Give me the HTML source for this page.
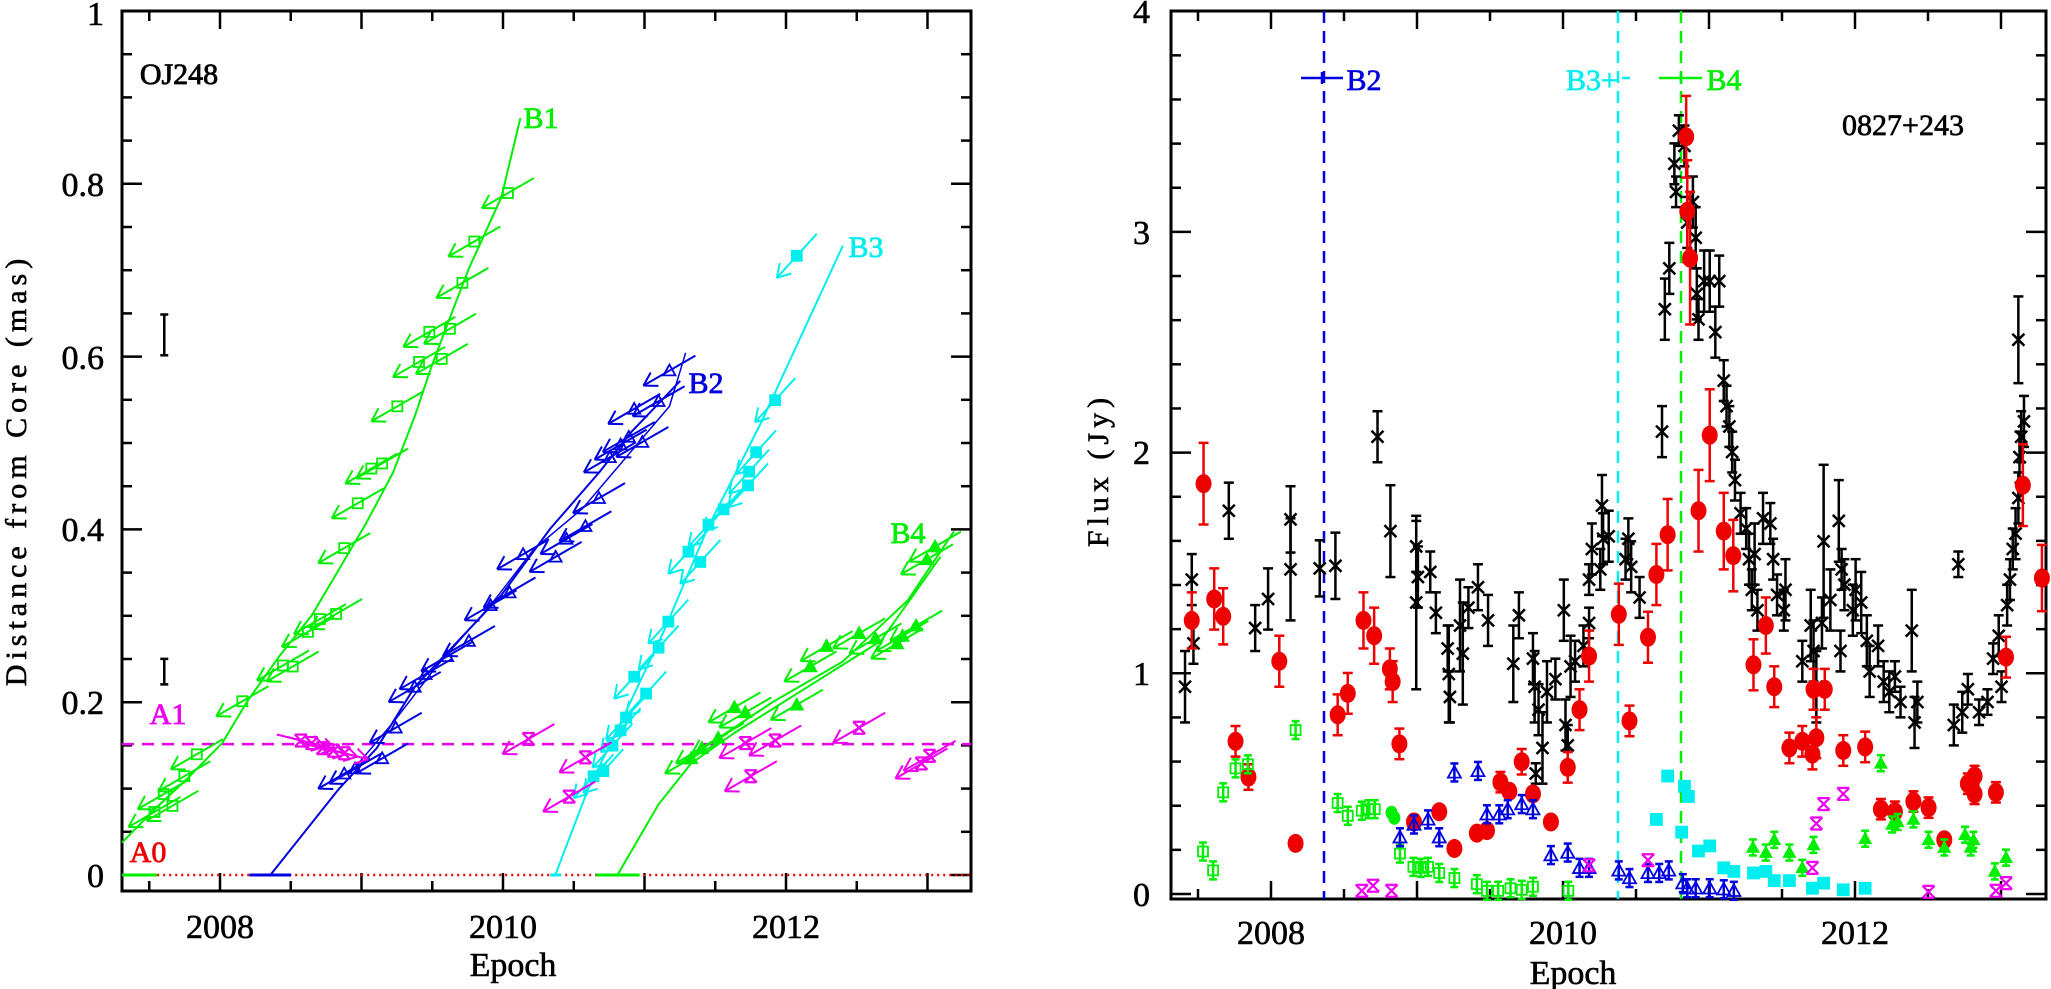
<!DOCTYPE html>
<html><head><meta charset="utf-8"><style>
html,body{margin:0;padding:0;background:#fff;}
svg{display:block;}
text{font-family:"Liberation Serif",serif;}
</style></head><body>
<svg id="s" width="2051" height="989" viewBox="0 0 2051 989" xmlns="http://www.w3.org/2000/svg">
<rect x="0" y="0" width="2051" height="989" fill="#fff"/>
<g id="L"></g><g id="R"></g>
<!-- left texts -->
<g stroke-width="0.8">
<text x="179" y="84" font-size="30" fill="#000" stroke="#000" text-anchor="middle">OJ248</text>
<text x="541" y="128" font-size="30" fill="#00ee00" stroke="#00ee00" text-anchor="middle">B1</text>
<text x="706" y="393" font-size="30" fill="#0000e0" stroke="#0000e0" text-anchor="middle">B2</text>
<text x="866" y="257" font-size="30" fill="#00eeee" stroke="#00eeee" text-anchor="middle">B3</text>
<text x="908" y="543" font-size="30" fill="#00ee00" stroke="#00ee00" text-anchor="middle">B4</text>
<text x="168" y="724" font-size="30" fill="#ee00ee" stroke="#ee00ee" text-anchor="middle">A1</text>
<text x="148" y="862" font-size="30" fill="#ee0000" stroke="#ee0000" text-anchor="middle">A0</text>
</g>
<g font-size="34" text-anchor="end" fill="#000" stroke="#000" stroke-width="0.6">
<text x="104" y="887">0</text><text x="104" y="714">0.2</text><text x="104" y="541">0.4</text>
<text x="104" y="369">0.6</text><text x="104" y="196">0.8</text><text x="104" y="25">1</text>
</g>
<g font-size="34" text-anchor="middle" fill="#000" stroke="#000" stroke-width="0.6">
<text x="220" y="938">2008</text><text x="503" y="938">2010</text><text x="786" y="938">2012</text>
<text x="513" y="976">Epoch</text>
<text transform="translate(26,470) rotate(-90)" font-size="30" letter-spacing="5">Distance from Core (mas)</text>
</g>
<!-- right texts -->
<g font-size="34" text-anchor="end" fill="#000" stroke="#000" stroke-width="0.6">
<text x="1150" y="906">0</text><text x="1150" y="685">1</text><text x="1150" y="464">2</text>
<text x="1150" y="244">3</text><text x="1150" y="23">4</text>
</g>
<g font-size="34" text-anchor="middle" fill="#000" stroke="#000" stroke-width="0.6">
<text x="1271" y="944">2008</text><text x="1563" y="944">2010</text><text x="1855" y="944">2012</text>
<text x="1573" y="984">Epoch</text>
<text transform="translate(1108,470) rotate(-90)" font-size="30" letter-spacing="5">Flux (Jy)</text>
</g>
<g stroke-width="0.7">
<text x="1903" y="135" font-size="30" fill="#000" stroke="#000" text-anchor="middle">0827+243</text>
<text x="1364" y="90" font-size="30" fill="#0000e0" stroke="#0000e0" text-anchor="middle">B2</text>
<text x="1592" y="90" font-size="30" fill="#00eeee" stroke="#00eeee" text-anchor="middle">B3+</text>
<text x="1724" y="90" font-size="30" fill="#00ee00" stroke="#00ee00" text-anchor="middle">B4</text>
</g>
</svg>
<script>
var NS="http://www.w3.org/2000/svg";
function el(p,t,a){var e=document.createElementNS(NS,t);for(var k in a)e.setAttribute(k,a[k]);p.appendChild(e);return e;}
var L=document.getElementById('L'),R=document.getElementById('R');
function line(p,x1,y1,x2,y2,c,w,d){var a={x1:x1,y1:y1,x2:x2,y2:y2,stroke:c,'stroke-width':w||2};if(d)a['stroke-dasharray']=d;return el(p,'line',a);}
function poly(p,pts,c,w,d){var a={points:pts.map(function(q){return q[0]+','+q[1];}).join(' '),fill:'none',stroke:c,'stroke-width':w||2};if(d)a['stroke-dasharray']=d;el(p,'polyline',a);}
function frame(p,x0,y0,x1,y1){el(p,'rect',{x:x0,y:y0,width:x1-x0,height:y1-y0,fill:'none',stroke:'#000','stroke-width':3});}
frame(L,122,11,971,891);frame(R,1171,11,2046,899);
for(var i=0;i<=20;i++){var v=i*0.05,y=875-864*v;if(y<11)continue;var len=(i%4==0)?20:10;line(L,122,y,122+len,y,'#000',2.5);line(L,971,y,971-len,y,'#000',2.5);}
for(var t=2007.5;t<=2013.01;t+=0.5){var x=220+(t-2008)*141.5;var len=(Math.abs(t-Math.round(t))<0.01)?18:10;line(L,x,891,x,891-len,'#000',2.5);line(L,x,11,x,11+len,'#000',2.5);}
for(var i=0;i<=20;i++){var f=i*0.2,y=894-220.7*f;var len=(i%5==0)?20:10;line(R,1171,y,1171+len,y,'#000',2.5);line(R,2046,y,2046-len,y,'#000',2.5);}
for(var t=2007.5;t<=2013.01;t+=0.5){var x=1271+(t-2008)*146;var len=(Math.abs(t-Math.round(t))<0.01)?18:10;line(R,x,899,x,899-len,'#000',2.5);line(R,x,11,x,11+len,'#000',2.5);}
function LX(z){return 122+z/1.845;}function LY(z){return 90+z/1.96;}
function lp(a){return a.map(function(q){return [LX(q[0]),LY(q[1])];});}
var G='#00ee00',B='#0000e0',C='#00eeee',M='#ee00ee',Rd='#ee0000';
line(L,LX(65),875,971,875,Rd,2.5,'2,4');
line(L,122,875,LX(65),875,G,3);line(L,LX(235),875,LX(312),875,B,3);line(L,LX(790),875,LX(810),875,C,3);line(L,LX(875),875,LX(955),875,G,3);
line(L,122,LY(1282),971,LY(1282),M,2.5,'12,8');
poly(L,lp([[0,1475],[60,1410],[120,1350],[185,1280],[230,1200],[290,1110],[350,1030],[400,940],[450,850],[500,750],[540,640],[570,545],[600,460],[640,350],[700,210],[735,55]]),G);
poly(L,lp([[275,1537],[400,1370],[470,1290],[540,1170],[620,1080],[700,990],[790,860],[880,750],[940,670],[1030,570]]),B);
poly(L,lp([[420,1340],[500,1240],[580,1130],[680,1010],[760,900],[850,820],[930,720],[1010,620],[1040,515]]),B,1.5);
poly(L,lp([[800,1537],[860,1370],[920,1240],[1000,1060],[1080,860],[1180,650],[1330,305]]),C);
poly(L,lp([[915,1537],[990,1400],[1050,1320],[1130,1260],[1250,1180],[1400,1080],[1510,915]]),G);
poly(L,lp([[1030,1320],[1200,1200],[1330,1120],[1450,1000],[1535,865]]),G);
function arrow(p,x,y,c,dx,dy){dx=dx||26;dy=dy||-15;line(p,x+dx,y+dy,x-dx,y-dy,c,2);var ex=x-dx,ey=y-dy;var ang=Math.atan2(-dy,-dx);var a1=ang+2.6,a2=ang-2.6;line(p,ex,ey,ex+15*Math.cos(a1),ey+15*Math.sin(a1),c,2);line(p,ex,ey,ex+15*Math.cos(a2),ey+15*Math.sin(a2),c,2);}
function msq(p,x,y,c,f,s){s=s||5;el(p,'rect',{x:x-s,y:y-s,width:2*s,height:2*s,fill:f?c:'none',stroke:c,'stroke-width':1.8});}
function mtri(p,x,y,c,f,s){s=s||6;el(p,'polygon',{points:(x)+','+(y-s)+' '+(x-s)+','+(y+s*0.8)+' '+(x+s)+','+(y+s*0.8),fill:f?c:'none',stroke:c,'stroke-width':1.8});}
function mstar(p,x,y,c,s){s=s||5;line(p,x-s,y-s,x+s,y+s,c,2.2);line(p,x-s,y+s,x+s,y-s,c,2.2);line(p,x-s,y-s,x+s,y-s,c,2.2);line(p,x-s,y+s,x+s,y+s,c,2.2);}
[[60,1415],[93,1403],[77,1380],[115,1345],[138,1302],[222,1198],[297,1128],[315,1130],[343,1062],[365,1037],[395,1027],[410,898],[435,810],[460,742],[480,732],[508,620],[548,533],[590,527],[567,474],[605,468],[628,378],[650,297],[712,202]].forEach(function(q){var x=LX(q[0]),y=LY(q[1]);arrow(L,x,y,G);msq(L,x,y,G,false);});
[[410,1340],[430,1330],[480,1310],[505,1250],[540,1170],[560,1145],[600,1110],[640,1080],[680,1010],[715,985],[740,910],[800,915],[820,880],[855,855],[880,800],[900,720],[920,695],[935,680],[960,690],[945,625],[990,610],[1010,550]].forEach(function(q){var x=LX(q[0]),y=LY(q[1]);arrow(L,x,y,B);mtri(L,x,y,B,false);});
[[870,1345],[888,1335],[905,1285],[920,1255],[930,1230],[945,1150],[967,1183],[990,1093],[1008,1042],[1045,905],[1067,925],[1082,852],[1110,822],[1155,775],[1157,748],[1170,710],[1205,608],[1245,325]].forEach(function(q){var x=LX(q[0]),y=LY(q[1]);arrow(L,x,y,C,20,-22);msq(L,x,y,C,true);});
[[1050,1310],[1070,1290],[1100,1270],[1130,1210],[1150,1220],[1245,1205],[1270,1130],[1300,1090],[1360,1065],[1390,1075],[1430,1085],[1440,1070],[1465,1050],[1485,920],[1500,895]].forEach(function(q){var x=LX(q[0]),y=LY(q[1]);arrow(L,x,y,G);mtri(L,x,y,G,true);});
[[330,1275,1],[350,1280,1],[370,1290,1],[390,1295,1],[410,1300,1],[750,1272,0],[855,1308,0],[825,1385,0],[1150,1280,0],[1205,1275,0],[1160,1345,0],[1360,1250,0],[1490,1305,0],[1475,1320,0]].forEach(function(q){var x=LX(q[0]),y=LY(q[1]);if(q[2])arrow(L,x,y,M,-24,-6);else arrow(L,x,y,M);mstar(L,x,y,M,6);});
function ebar(p,x,y1,y2,c,w){line(p,x,y1,x,y2,c,2.5);line(p,x-w,y1,x+w,y1,c,2.5);line(p,x-w,y2,x+w,y2,c,2.5);}
ebar(L,LX(78),LY(440),LY(520),'#000',4);ebar(L,LX(78),LY(1115),LY(1165),'#000',4);
function RX(z){return 1171+z/1.782;}function RY(z){return 100+z/1.96;}
line(R,1324,11,1324,899,B,2.5,'12,8');line(R,1618,11,1618,899,C,2.5,'12,8');line(R,1681,11,1681,899,G,2.5,'12,8');
line(R,1301,78,1343,78,B,2.5);line(R,1322,72,1322,84,B,2.5);
line(R,1622,78,1630,78,C,2.5);
line(R,1659,78,1702,78,G,2.5);line(R,1681,72,1681,84,G,2.5);
var blk=[[25,1150,70],[37,940,50],[40,1065,40],[103,805,55],[150,1035,45],[173,978,60],[213,822,65],[213,920,100],[265,918,55],[293,913,65],[368,660,50],[391,845,90],[437,875,50],[437,985,170],[440,935,60],[462,925,40],[472,1005,40],[493,1075,45],[495,1125,95],[497,1170,50],[515,1030,90],[520,1085,100],[530,995,40],[547,955,45],[565,1020,50],[610,1105,75],[620,1010,45],[645,1095,50],[648,1150,70],[650,1320,20],[655,1195,50],[662,1270,70],[670,1160,60],[685,1135,40],[700,1000,60],[703,1225,50],[707,1265,40],[712,1110,60],[720,1100,40],[735,1070,40],[745,1025,30],[745,940,30],[750,880,50],[765,920,40],[768,795,60],[770,860,50],[780,855,50],[810,900,40],[815,860,40],[820,915,50],[835,975,40],[875,650,50],[880,410,60],[888,330,50],[897,125,40],[900,180,30],[905,60,30],[915,90,40],[920,240,50],[930,200,50],[935,270,60],[937,380,50],[940,430,40],[950,355,60],[960,355,60],[970,455,50],[977,355,50],[985,550,40],[990,600,40],[995,640,40],[1000,690,40],[1005,745,40],[1015,810,40],[1025,840,40],[1030,900,50],[1035,960,40],[1040,890,60],[1045,1000,40],[1055,820,50],[1068,830,40],[1073,900,40],[1080,970,40],[1092,1000,40],[1095,960,60],[1125,1100,40],[1140,1030,70],[1145,1080,60],[1150,1150,70],[1160,1025,50],[1163,865,150],[1175,980,60],[1190,825,80],[1193,1080,40],[1195,920,40],[1200,950,50],[1215,1000,50],[1220,960,60],[1230,985,60],[1240,1060,50],[1245,1120,50],[1260,1070,40],[1270,1140,40],[1280,1160,40],[1290,1130,30],[1300,1180,30],[1320,1040,80],[1325,1220,50],[1330,1180,40],[1395,1225,40],[1403,910,25],[1410,1200,40],[1420,1155,30],[1440,1200,25],[1455,1180,25],[1465,1095,30],[1475,1050,40],[1480,1150,30],[1490,990,40],[1495,940,40],[1500,880,40],[1505,850,50],[1510,780,50],[1512,700,50],[1515,660,50],[1520,630,50],[1510,470,85]];
blk.forEach(function(q){var x=RX(q[0]),y=RY(q[1]),e=q[2]/1.96;ebar(R,x,y-e,y+e,'#000',5);line(R,x-6,y-6,x+6,y+6,'#000',2.5);line(R,x-6,y+6,x+6,y-6,'#000',2.5);});
var red=[[37,1020,55],[58,752,80],[77,978,60],[93,1012,55],[115,1257,30],[138,1327,25],[193,1100,50],[222,1457,0],[297,1205,40],[315,1163,40],[343,1020,55],[362,1050,55],[390,1115,40],[395,1140,40],[407,1262,30],[433,1415,0],[478,1395,0],[505,1467,0],[545,1437,0],[563,1432,0],[587,1337,20],[603,1355,0],[625,1297,25],[645,1360,0],[677,1415,0],[707,1308,30],[728,1195,40],[745,1090,50],[798,1008,60],[817,1217,30],[850,1053,50],[865,930,60],[885,852,70],[918,72,80],[920,218,100],[925,310,130],[940,805,80],[960,657,90],[985,845,75],[1002,893,70],[1038,1107,50],[1060,1030,55],[1075,1150,40],[1102,1270,30],[1125,1257,30],[1143,1282,30],[1145,1155,40],[1150,1250,40],[1165,1155,40],[1198,1275,30],[1237,1268,30],[1265,1390,20],[1290,1395,20],[1323,1375,20],[1350,1387,20],[1378,1450,0],[1420,1340,20],[1432,1325,20],[1432,1360,20],[1470,1357,20],[1488,1092,40],[1518,755,80],[1552,937,65]];
red.forEach(function(q){var x=RX(q[0]),y=RY(q[1]),e=q[2]/1.96;if(e>0)ebar(R,x,y-e,y+e,Rd,5);el(R,'ellipse',{cx:x,cy:y,rx:8,ry:9.5,fill:Rd});});
[[57,1473],[75,1510],[93,1357],[115,1310],[137,1302],[222,1235],[297,1378],[315,1403],[340,1393],[352,1390],[363,1390],[408,1477],[432,1503],[445,1505],[458,1503],[478,1515],[505,1525],[545,1537],[563,1550],[583,1550],[605,1545],[625,1548],[645,1542],[708,1550]].forEach(function(q){var x=RX(q[0]),y=RY(q[1]);ebar(R,x,y-9,y+9,G,4);msq(R,x,y,G,false,5);});
[[393,1397],[398,1407]].forEach(function(q){el(R,'ellipse',{cx:RX(q[0]),cy:RY(q[1]),rx:6,ry:7,fill:G});});
[[408,1445],[433,1420],[458,1410],[478,1445],[505,1318],[547,1315],[563,1400],[585,1400],[600,1390],[625,1380],[645,1390],[677,1480],[707,1475],[728,1505],[745,1505],[798,1510],[817,1525],[850,1515],[870,1515],[887,1510],[912,1535],[920,1545],[935,1545],[960,1545],[985,1547],[1003,1550]].forEach(function(q){var x=RX(q[0]),y=RY(q[1]);ebar(R,x,y-9,y+9,B,4);mtri(R,x,y,B,false,6.5);});
[[865,1410],[885,1325],[910,1435],[915,1345],[922,1365],[940,1472],[960,1462],[985,1505],[1003,1512],[1038,1515],[1060,1512],[1075,1530],[1102,1530],[1143,1545],[1163,1535],[1198,1548],[1237,1545]].forEach(function(q){msq(R,RX(q[0]),RY(q[1]),C,true,5.5);});
[[1037,1465],[1060,1475],[1075,1450],[1102,1475],[1125,1505],[1145,1460],[1237,1448],[1265,1300],[1285,1420],[1295,1415],[1323,1410],[1350,1450],[1378,1465],[1415,1440],[1425,1465],[1430,1450],[1468,1512],[1488,1485]].forEach(function(q){var x=RX(q[0]),y=RY(q[1]);ebar(R,x,y-8,y+8,G,4);mtri(R,x,y,G,true,5.5);});
[[340,1550],[360,1540],[393,1550],[745,1500],[850,1490],[1143,1505],[1150,1418],[1163,1380],[1198,1360],[1350,1552],[1470,1550],[1488,1535]].forEach(function(q){var x=RX(q[0]),y=RY(q[1]);mstar(R,x,y,M,6);});
</script>
</body></html>
